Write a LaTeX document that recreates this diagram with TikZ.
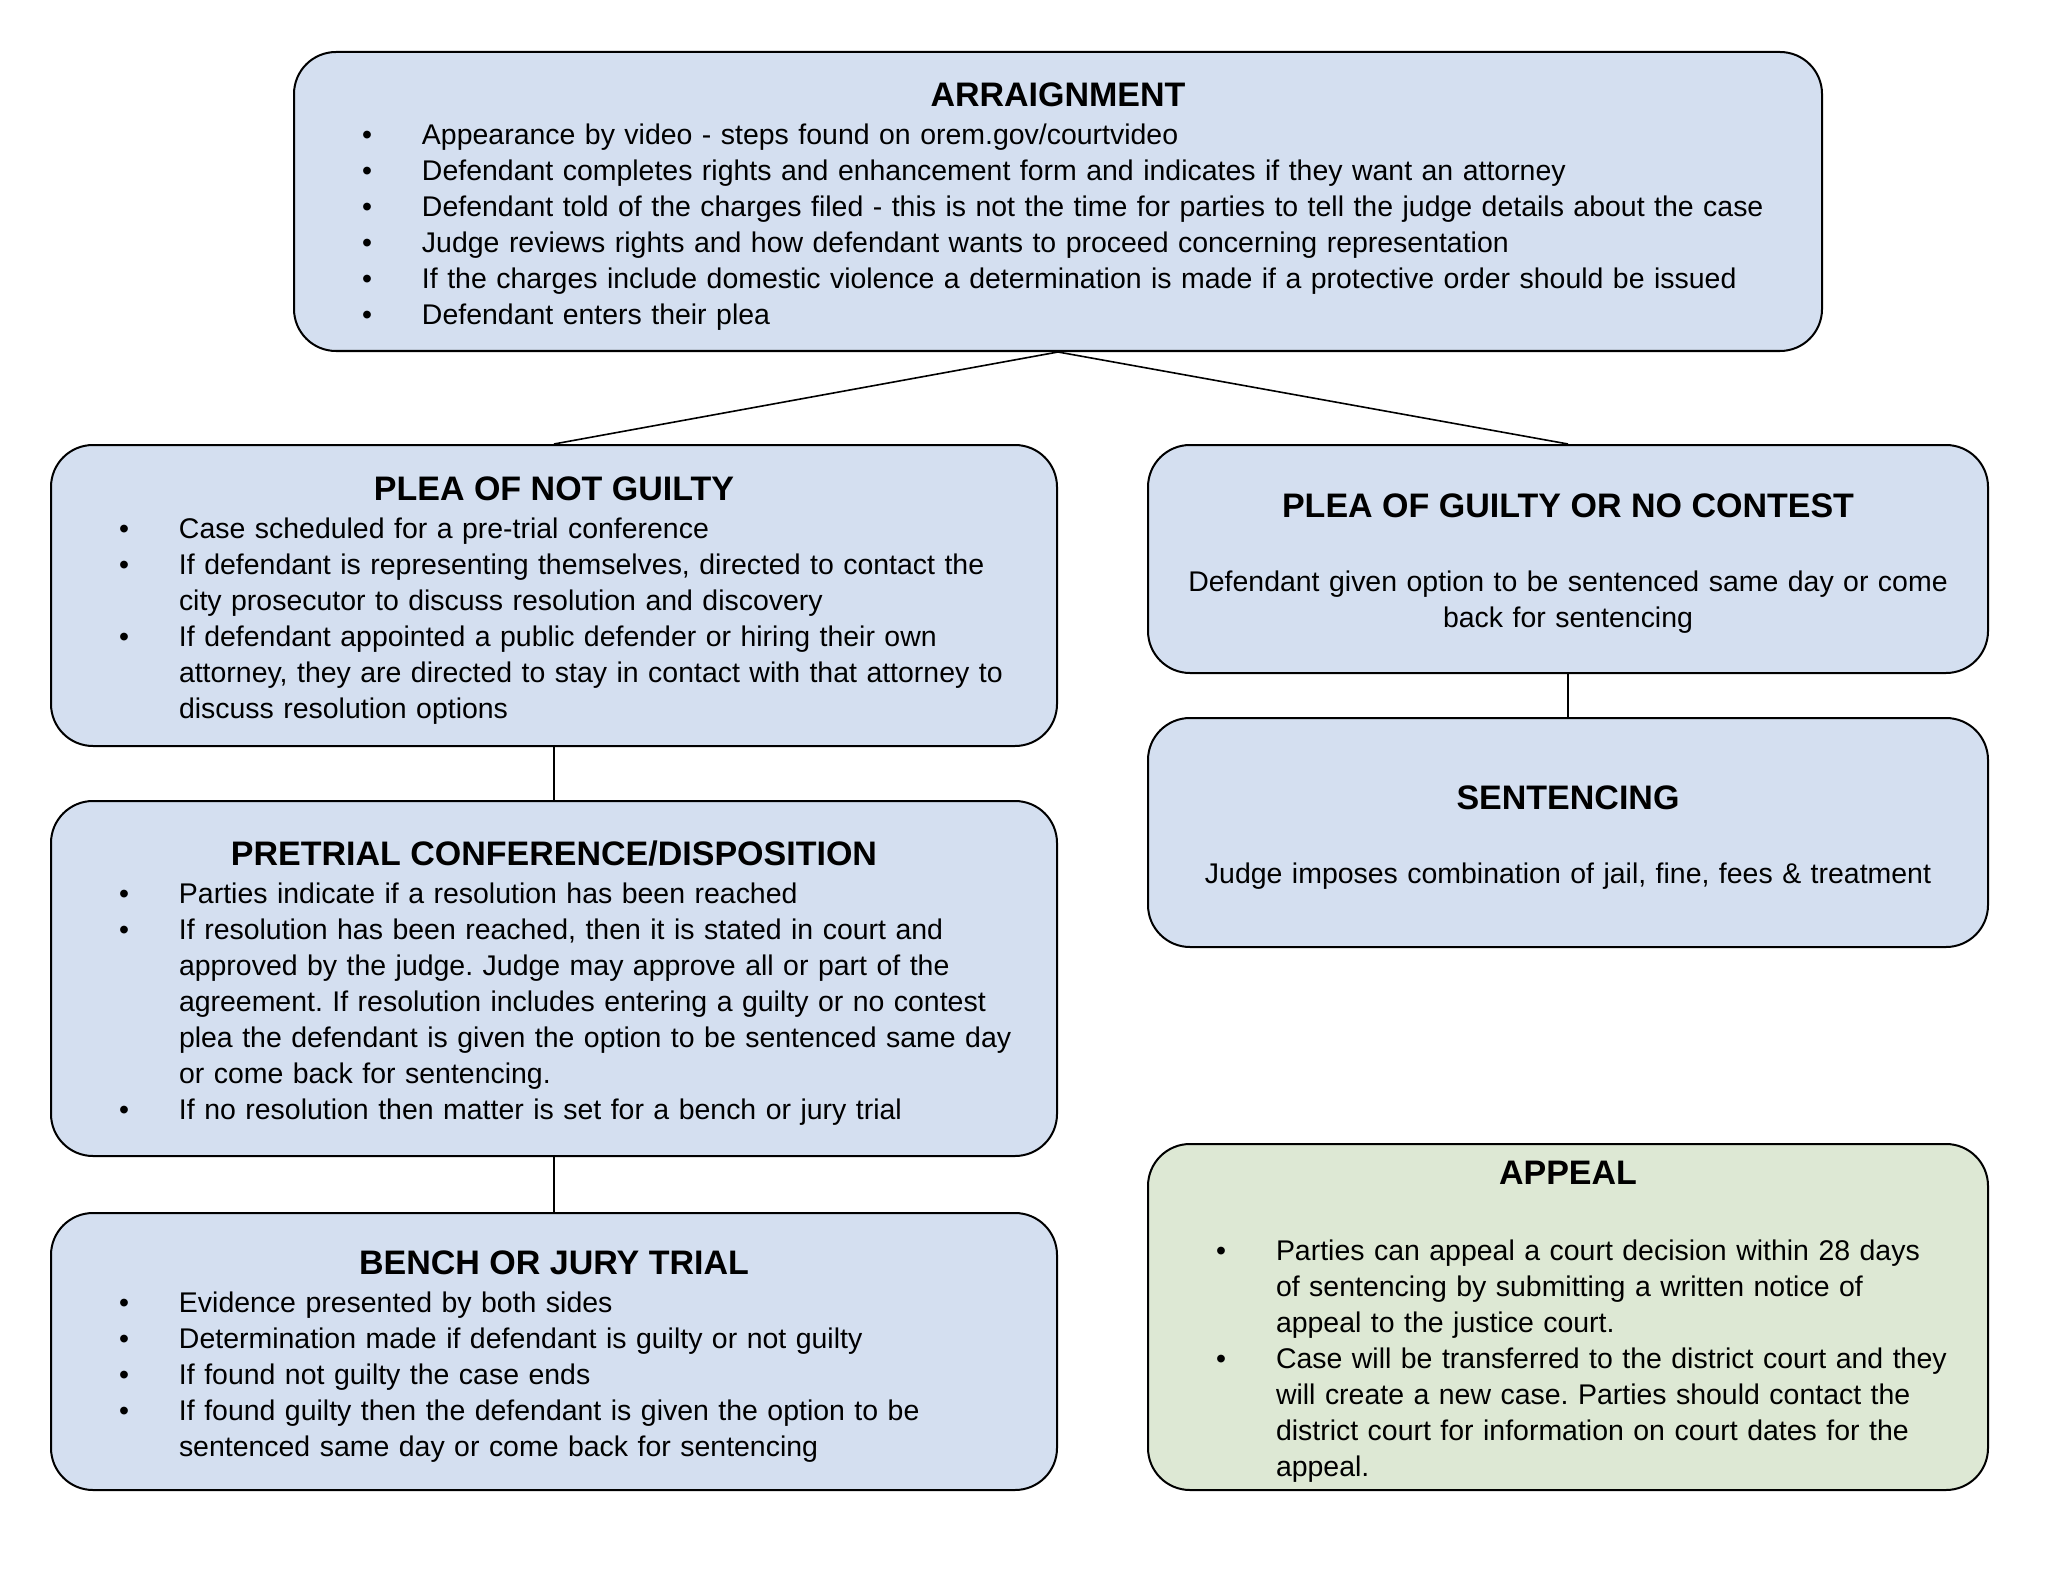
\documentclass[tikz,border=0pt]{standalone}
\usepackage{fontspec}
\setmainfont{Liberation Sans}
\usepackage{xcolor}
\definecolor{courtblue}{RGB}{212,223,240}
\definecolor{courtgreen}{RGB}{221,232,212}
\newcommand{\bodyfont}{\fontsize{14.23}{18}\selectfont\frenchspacing}
\newcommand{\boxtitle}[2][1pt]{{\centering\fontsize{17}{20}\selectfont\bfseries #2\par}\vspace{#1}}
\newcommand{\bitem}{\par\hangindent=64pt\hangafter=0\noindent\llap{\makebox[30pt][l]{\textbullet}}}
\newcommand{\boxend}{\par\kern-4.6pt}

\begin{document}
\begin{tikzpicture}[x=0.5pt, y=-0.5pt,
    stage/.style={draw, line width=1pt, rounded corners=21pt, fill=courtblue,
        inner sep=0pt, align=left, font=\bodyfont},
    link/.style={line width=0.8pt}]
    \useasboundingbox (0,0) rectangle (2048,1583);

    % Arraignment
    \node[stage, text width=764pt, minimum height=149.5pt] (arr) at (1058,201.5) {%
        \boxtitle{ARRAIGNMENT}
        \bitem Appearance by video - steps found on orem.gov/courtvideo
        \bitem Defendant completes rights and enhancement form and indicates if they want an attorney
        \bitem Defendant told of the charges filed - this is not the time for parties to tell the judge details about the case
        \bitem Judge reviews rights and how defendant wants to proceed concerning representation
        \bitem If the charges include domestic violence a determination is made if a protective order should be issued
        \bitem Defendant enters their plea\boxend};

    % Not guilty side
    \node[stage, text width=503pt, minimum height=150.5pt] (notg) at (554,595.5) {%
        \boxtitle{PLEA OF NOT GUILTY}
        \bitem Case scheduled for a pre-trial conference
        \bitem If defendant is representing themselves, directed to contact the\newline
            city prosecutor to discuss resolution and discovery
        \bitem If defendant appointed a public defender or hiring their own\newline
            attorney, they are directed to stay in contact with that attorney to\newline
            discuss resolution options\boxend};
    \node[stage, text width=503pt, minimum height=177.5pt] (pre) at (554,978.5) {%
        \boxtitle{PRETRIAL CONFERENCE/DISPOSITION}
        \bitem Parties indicate if a resolution has been reached
        \bitem If resolution has been reached, then it is stated in court and\newline
            approved by the judge. Judge may approve all or part of the\newline
            agreement. If resolution includes entering a guilty or no contest\newline
            plea the defendant is given the option to be sentenced same day\newline
            or come back for sentencing.
        \bitem If no resolution then matter is set for a bench or jury trial\boxend};
    \node[stage, text width=503pt, minimum height=138.5pt] (bench) at (554,1351.5) {%
        \boxtitle{BENCH OR JURY TRIAL}
        \bitem Evidence presented by both sides
        \bitem Determination made if defendant is guilty or not guilty
        \bitem If found not guilty the case ends
        \bitem If found guilty then the defendant is given the option to be\newline
            sentenced same day or come back for sentencing\boxend};

    % Guilty side
    \node[stage, text width=420pt, minimum height=114pt] (guilty) at (1568,559) {%
        \boxtitle[19pt]{PLEA OF GUILTY OR NO CONTEST}
        {\centering Defendant given option to be sentenced same day or come\\
            back for sentencing\par}\boxend};
    \node[stage, text width=420pt, minimum height=114.5pt] (sent) at (1568,832.5) {%
        \boxtitle[19pt]{SENTENCING}
        {\centering Judge imposes combination of jail, fine, fees \& treatment\par}\boxend};

    % Appeal
    \node[stage, fill=courtgreen, text width=420pt, minimum height=173pt] (appeal) at (1568,1317) {%
        \boxtitle[20pt]{APPEAL}
        \bitem Parties can appeal a court decision within 28 days\newline
            of sentencing by submitting a written notice of\newline
            appeal to the justice court.
        \bitem Case will be transferred to the district court and they\newline
            will create a new case. Parties should contact the\newline
            district court for information on court dates for the\newline
            appeal.\boxend};

    % Connectors
    \draw[link] (arr.south) -- (notg.north);
    \draw[link] (arr.south) -- (guilty.north);
    \draw[link] (notg.south) -- (pre.north);
    \draw[link] (pre.south) -- (bench.north);
    \draw[link] (guilty.south) -- (sent.north);
\end{tikzpicture}
\end{document}
